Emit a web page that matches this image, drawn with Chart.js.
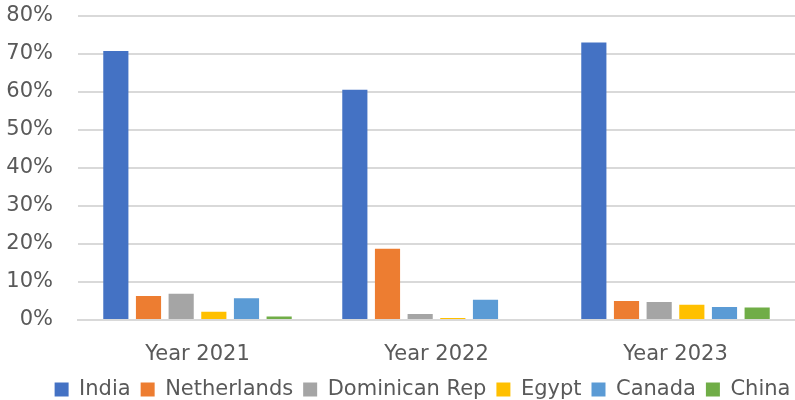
<!DOCTYPE html>
<html>
<head>
<meta charset="utf-8">
<script src="https://cdn.jsdelivr.net/npm/chart.js@4"></script>
<style>
html,body{margin:0;padding:0;background:#fff;width:795px;height:400px;overflow:hidden;}
#wrap{width:795px;height:432px;position:relative;top:-22px;}
</style>
</head>
<body>
<div id="wrap"><canvas id="c"></canvas></div>
<script>
const categories = ["Year 2021", "Year 2022", "Year 2023"];
const india = [70.7, 60.5, 72.9];
const netherlands = [6.3, 18.7, 5.0];
const dominicanRep = [6.9, 1.6, 4.7];
const egypt = [2.2, 0.5, 4.0];
const canada = [5.7, 5.3, 3.4];
const china = [0.9, 0, 3.3];
const yTicks = [0, 10, 20, 30, 40, 50, 60, 70, 80];

const font = "'DejaVu Sans', sans-serif";
const ds = (label, data, color) => ({label, data, backgroundColor: color, borderWidth: 0,
  categoryPercentage: 0.82, barPercentage: 0.77});

const legendShift = {
  id: 'legendShift',
  afterLayout(chart) {
    if (chart.legend) { chart.legend.left += 22; chart.legend.right += 22; }
  }
};

new Chart(document.getElementById('c'), {
  type: 'bar',
  data: {
    labels: categories,
    datasets: [
      ds('India', india, '#4472C4'),
      ds('Netherlands', netherlands, '#ED7D31'),
      ds('Dominican Rep', dominicanRep, '#A5A5A5'),
      ds('Egypt', egypt, '#FFC000'),
      ds('Canada', canada, '#5B9BD5'),
      ds('China', china, '#70AD47')
    ]
  },
  plugins: [legendShift],
  options: {
    responsive: true,
    maintainAspectRatio: false,
    animation: false,
    layout: {padding: {top: 0, left: 6, right: 0, bottom: 0}},
    plugins: {
      title: {display: false},
      tooltip: {enabled: false},
      legend: {
        position: 'bottom',
        labels: {
          boxWidth: 14, boxHeight: 14, padding: 10,
          color: '#595959',
          font: {family: font, size: 21}
        }
      }
    },
    scales: {
      x: {
        grid: {display: false, drawTicks: false},
        border: {display: true, color: '#D9D9D9', width: 2},
        ticks: {color: '#595959', font: {family: font, size: 21}, padding: 22},
        afterFit: (axis) => { axis.height = 49; }
      },
      y: {
        min: 0, max: 80,
        afterBuildTicks: (axis) => { axis.ticks = yTicks.map(v => ({value: v})); },
        grid: {color: '#D9D9D9', lineWidth: 2, drawTicks: false},
        border: {display: false},
        ticks: {color: '#595959', font: {family: font, size: 21}, padding: 25,
          callback: v => v + '%'},
        afterFit: (axis) => { axis.width = 72; }
      }
    }
  }
});
</script>
</body>
</html>
